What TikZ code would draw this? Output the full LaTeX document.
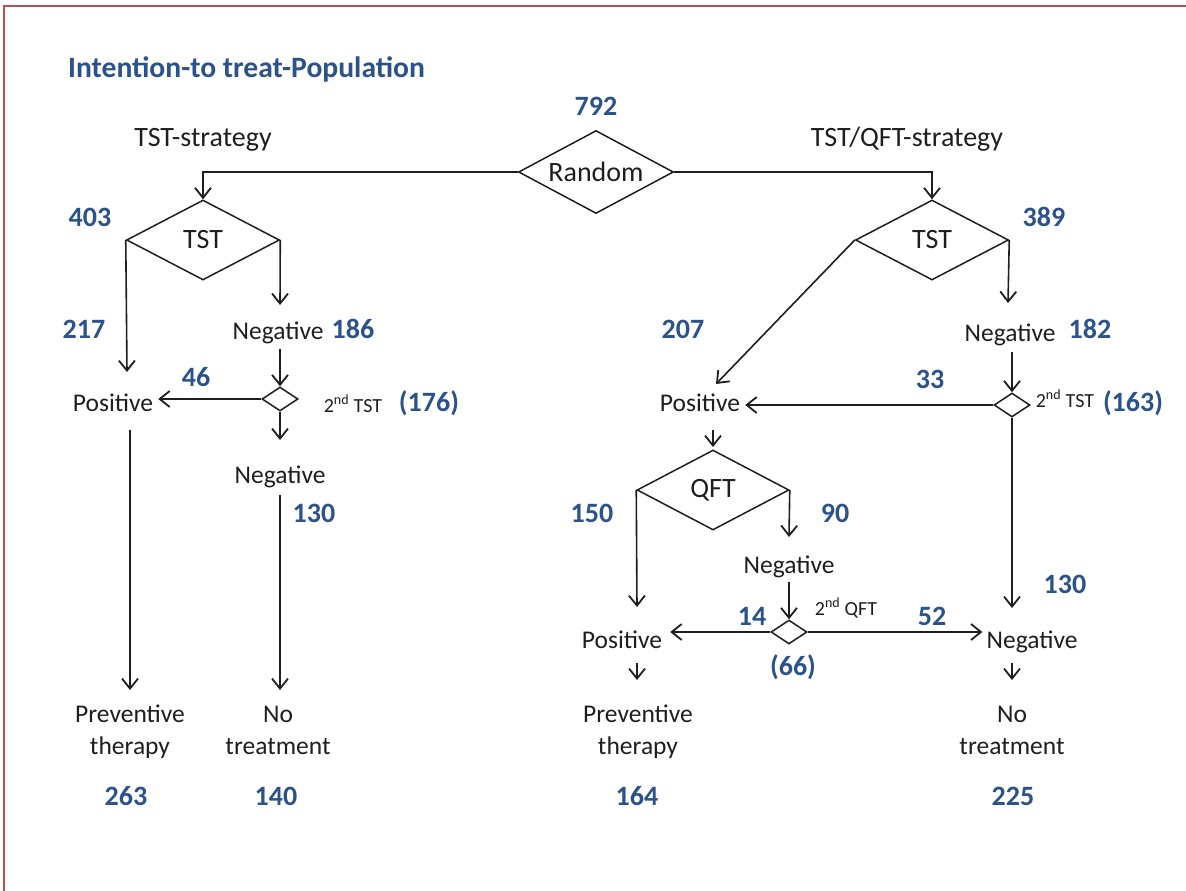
\documentclass[tikz,border=0pt]{standalone}
\usepackage{fontspec}
\setmainfont{Carlito}
\usetikzlibrary{arrows.meta,shapes.geometric}
\definecolor{numblue}{RGB}{44,82,140}
\definecolor{ink}{RGB}{30,30,30}
\definecolor{frame}{RGB}{192,80,77}
\begin{document}
\begin{tikzpicture}[x=1pt,y=-1pt,
  lbl/.style={font=\fontsize{25.5}{28}\selectfont, text=ink, inner sep=0pt, text height=0.7em, text depth=0.2em, align=center, yshift=-6pt},
  big/.style={font=\fontsize{28}{30}\selectfont, text=ink, inner sep=0pt, text height=0.7em, text depth=0.2em, yshift=-6pt},
  small/.style={font=\fontsize{20}{22}\selectfont, text=ink, inner sep=0pt, text height=0.7em, text depth=0.2em, yshift=-5pt},
  num/.style={font=\fontsize{28}{30}\selectfont\bfseries, text=numblue, inner sep=0pt, text height=0.7em, text depth=0.2em, yshift=-6pt},
  dia/.style={diamond, aspect=1.9, draw=ink, line width=1.5pt, inner sep=0pt, font=\fontsize{28}{30}\selectfont, text=ink},
  conn/.style={draw=ink, line width=1.6pt},
  arr/.style={conn, -{Straight Barb[length=10pt,width=16pt,line width=1.8pt]}}]
\useasboundingbox (0,0) rectangle (1186,891);
\draw[frame, line width=2.2pt] (4,891) -- (4,6) -- (1186,6);

% title and headers
\node[anchor=west, font=\fontsize{29.6}{31}\selectfont\bfseries, text=numblue, inner sep=0pt, text height=0.7em, text depth=0.2em, yshift=-6pt] (title) at (68,69) {Intention-to treat-Population};
\node[num] (n792) at (596,107) {792};
\node[big] (hL) at (203,138) {TST-strategy};
\node[big] (hR) at (907,138) {TST/QFT-strategy};

% diamonds
\node[dia, minimum width=155pt, minimum height=83pt] (rand) at (596,172) {Random};
\node[dia, minimum width=153pt, minimum height=80pt] (tstL) at (203,240) {TST};
\node[dia, minimum width=153pt, minimum height=80pt] (tstR) at (932,240) {TST};
\node[dia, minimum width=152pt, minimum height=80pt] (qft) at (713,490) {QFT};
\node[dia, minimum width=36pt, minimum height=24pt] (sdL) at (280,399) {};
\node[dia, minimum width=36pt, minimum height=24pt] (sdR) at (1012,405) {};
\node[dia, minimum width=36pt, minimum height=24pt] (sdQ) at (789,632) {};

% left branch labels
\node[num] (n403) at (90,218) {403};
\node[num] (n217) at (84,330) {217};
\node[lbl] (negL1) at (278,331) {Negative};
\node[num] (n186) at (353,330) {186};
\node[num] (n46) at (196,378) {46};
\node[lbl] (posL) at (113,403) {Positive};
\node[small] (tL) at (353,405) {2\textsuperscript{nd} TST};
\node[num] (n176) at (429,403) {(176)};
\node[lbl] (negL2) at (280,475) {Negative};
\node[num] (n130a) at (314,514) {130};
\node[lbl] (prevL) at (130,746) {Preventive\\[4pt]therapy};
\node[lbl] (noL) at (278,746) {No\\[4pt]treatment};
\node[num] (n263) at (126,797) {263};
\node[num] (n140) at (276,797) {140};

% right branch labels
\node[num] (n389) at (1044,218) {389};
\node[num] (n207) at (683,330) {207};
\node[lbl] (negR1) at (1010,333) {Negative};
\node[num] (n182) at (1090,330) {182};
\node[num] (n33) at (930,380) {33};
\node[lbl] (posR) at (700,403) {Positive};
\node[small] (tR) at (1065,400) {2\textsuperscript{nd} TST};
\node[num] (n163) at (1133,403) {(163)};
\node[num] (n150) at (592,514) {150};
\node[num] (n90) at (835,514) {90};
\node[lbl] (negQ) at (789,565) {Negative};
\node[small] (tQ) at (846,608) {2\textsuperscript{nd} QFT};
\node[num] (n14) at (752,617) {14};
\node[num] (n52) at (932,617) {52};
\node[num] (n66) at (793,667) {(66)};
\node[num] (n130b) at (1065,585) {130};
\node[lbl] (posQ) at (622,640) {Positive};
\node[lbl] (negF) at (1032,640) {Negative};
\node[lbl] (prevR) at (638,746) {Preventive\\[4pt]therapy};
\node[lbl] (noR) at (1012,746) {No\\[4pt]treatment};
\node[num] (n164) at (637,797) {164};
\node[num] (n225) at (1013,797) {225};

% coordinates for free ends
\coordinate (a1) at (127,372);
\coordinate (a2) at (280,305);
\coordinate (s5) at (280,349);
\coordinate (a3) at (280,440);
\coordinate (s8) at (280,495);
\coordinate (a4) at (280,690);
\coordinate (s9) at (130,430);
\coordinate (a5) at (130,690);
\coordinate (a6) at (1008,303);
\coordinate (a7) at (716,384);
\coordinate (s12) at (1012,352);
\coordinate (a8) at (1012,608);
\coordinate (s15) at (713,430);
\coordinate (a9) at (713,447);
\coordinate (a10) at (637,607);
\coordinate (a11) at (789,537);
\coordinate (s18) at (789,582);
\coordinate (s21) at (637,663);
\coordinate (a12) at (637,680);
\coordinate (s22) at (1012,663);
\coordinate (a13) at (1012,680);

% connectors
\draw[arr] (rand.west) -| (tstL.north);
\draw[arr] (rand.east) -| (tstR.north);
\draw[arr] (tstL.west) -- (a1);
\draw[arr] (tstL.east) -- (a2);
\draw[arr] (s5) -- (sdL.north);
\draw[arr, shorten >=5pt] (sdL.west) -- (sdL.west -| posL.east);
\draw[arr] (sdL.south) -- (a3);
\draw[arr] (s8) -- (a4);
\draw[arr] (s9) -- (a5);
\draw[arr] (tstR.east) -- (a6);
\draw[arr] (tstR.west) -- (a7);
\draw[arr] (s12) -- (sdR.north);
\draw[arr, shorten >=5pt] (sdR.west) -- (sdR.west -| posR.east);
\draw[arr] (sdR.south) -- (a8);
\draw[arr] (s15) -- (a9);
\draw[arr] (qft.west) -- (a10);
\draw[arr] (qft.east) -- (a11);
\draw[arr] (s18) -- (sdQ.north);
\draw[arr, shorten >=8pt] (sdQ.west) -- (sdQ.west -| posQ.east);
\draw[arr, shorten >=4pt] (sdQ.east) -- (sdQ.east -| negF.west);
\draw[arr] (s21) -- (a12);
\draw[arr] (s22) -- (a13);
\end{tikzpicture}
\end{document}
